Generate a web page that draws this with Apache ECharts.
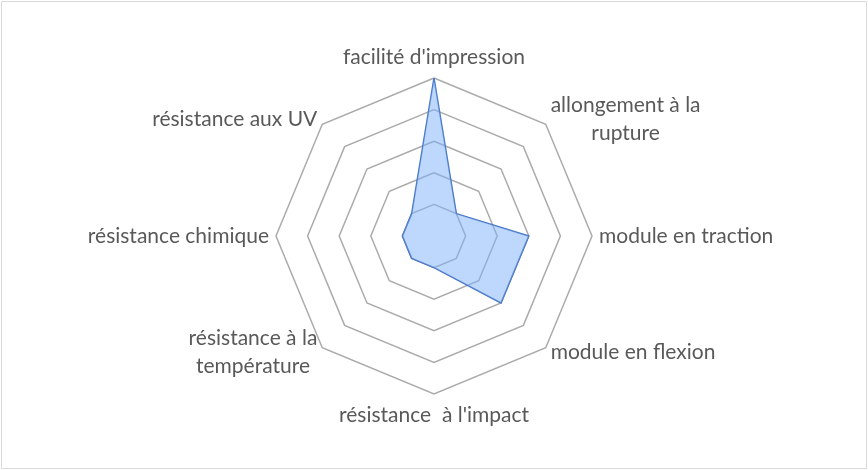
<!DOCTYPE html>
<html><head><meta charset="utf-8">
<script src="https://cdn.jsdelivr.net/npm/echarts@6/dist/echarts.min.js"></script>
<style>html,body{margin:0;padding:0;background:#fff}#c{width:868px;height:470px}</style>
</head><body><div id="c"></div>
<script>
// Categories in clockwise order starting at top
const categories = ["facilité d'impression", "allongement à la\nrupture", "module en traction", "module en flexion", "résistance  à l'impact", "résistance à la\ntempérature", "résistance chimique", "résistance aux UV"];
const values = [5, 1, 3, 3, 1, 1, 1, 1];
const maxValue = 5;

// ECharts radar goes counter-clockwise: reorder keeping first at top
const order = [0].concat(categories.map((_, i) => i).slice(1).reverse());
const indicators = order.map(i => ({ name: categories[i], max: maxValue, min: 0 }));
const data = order.map(i => values[i]);

const chart = echarts.init(document.getElementById('c'));
chart.setOption({
  animation: false,
  graphic: [{ type: 'rect', shape: { x: 1.5, y: 1.5, width: 865, height: 467 }, style: { fill: 'none', stroke: '#d9d9d9', lineWidth: 1 } }],
  radar: {
    center: [434, 236],
    radius: 158,
    startAngle: 90,
    splitNumber: 5,
    shape: 'polygon',
    nameGap: 7,
    axisName: {
      color: '#595959',
      fontFamily: 'Lato',
      fontSize: 21,
      formatter: function (n) {
        return n.split('\n').map(l => '{a|' + l + '}').join('\n');
      },
      rich: { a: { align: 'center', color: '#595959', fontFamily: 'Lato', fontSize: 21, lineHeight: 28 } }
    },
    axisLine: { show: false },
    axisTick: { show: false },
    axisLabel: { show: false },
    splitArea: { show: false },
    splitLine: { lineStyle: { color: '#ababab', width: 1.5 } },
    indicator: indicators
  },
  series: [{
    type: 'radar',
    symbol: 'none',
    data: [{ value: data }],
    lineStyle: { color: '#4472C4', width: 1.5 },
    areaStyle: { color: 'rgba(125,175,252,0.5)', opacity: 1 }
  }]
});
</script></body></html>
